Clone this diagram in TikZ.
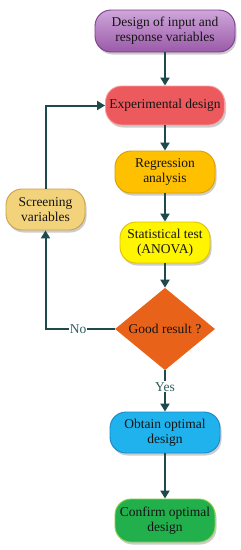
\documentclass[tikz,border=0pt]{standalone}
\usepackage{fontspec}
\setmainfont{Liberation Serif}
\usetikzlibrary{shapes.geometric,shadows,arrows.meta}
\definecolor{lnc}{HTML}{1E4A4C}
\definecolor{txc}{HTML}{151515}
\definecolor{lbc}{HTML}{2E5E5E}
\definecolor{purT}{HTML}{CFA6DB}
\definecolor{purB}{HTML}{9A5AA8}
\definecolor{purD}{HTML}{7A3E8A}
\definecolor{redF}{HTML}{EC5A5E}
\definecolor{redD}{HTML}{F5A0A0}
\definecolor{regF}{HTML}{FFC000}
\definecolor{regD}{HTML}{D9A000}
\definecolor{scrF}{HTML}{F2D27A}
\definecolor{scrD}{HTML}{C9A24A}
\definecolor{staF}{HTML}{FFF500}
\definecolor{staD}{HTML}{E0C000}
\definecolor{diaF}{HTML}{E8621A}
\definecolor{obtF}{HTML}{1FB2EC}
\definecolor{obtD}{HTML}{1A88C4}
\definecolor{conF}{HTML}{22B04C}
\definecolor{conD}{HTML}{8CCF4A}
\begin{document}
\begin{tikzpicture}[x=1pt,y=-1pt,
  font=\fontsize{13.5}{15}\selectfont,
  pill/.style={rectangle,rounded corners=16pt,align=center,text=txc,
    line width=0.9pt,inner sep=2pt,
    drop shadow={shadow xshift=1.5pt,shadow yshift=-2.5pt,opacity=0.4}},
  arr/.style={draw=lnc,line width=2pt,-{Triangle[length=8pt,width=9pt]}},
  lbl/.style={fill=white,text=lbc,inner sep=1pt}]
\useasboundingbox (0,0) rectangle (241,550);
\node[pill,draw=purD,top color=purT,bottom color=purB,minimum width=140pt,minimum height=42pt] (top) at (165,31) {Design of input and\\response variables};
\node[pill,draw=redD,fill=redF,minimum width=119pt,minimum height=39pt] (exp) at (165,105.5) {Experimental design};
\node[pill,draw=regD,fill=regF,minimum width=100pt,minimum height=42pt] (reg) at (165,172) {Regression\\analysis};
\node[pill,draw=scrD,fill=scrF,minimum width=79pt,minimum height=41pt] (scr) at (45.5,209.5) {Screening\\variables};
\node[pill,draw=staD,fill=staF,minimum width=90pt,minimum height=41pt] (sta) at (165,242.5) {Statistical test\\(ANOVA)};
\node[diamond,fill=diaF,text=txc,inner sep=0pt,minimum width=100pt,minimum height=70pt] (dia) at (165,329) {Good result ?};
\node[pill,draw=obtD,fill=obtF,minimum width=110pt,minimum height=41pt] (obt) at (165,432.5) {Obtain optimal\\design};
\node[pill,draw=conD,fill=conF,minimum width=100pt,minimum height=43pt] (con) at (165,520.5) {Confirm optimal\\design};
\draw[arr] (top) -- (exp);
\draw[arr] (exp) -- (reg);
\draw[arr] (reg) -- (sta);
\draw[arr] (sta) -- (dia);
\draw[arr] (dia.south) -- node[lbl,pos=0.4]{Yes} (obt.north);
\draw[arr] (obt) -- (con);
\coordinate (nc) at (dia.west -| scr.south);
\draw[arr] (dia.west) -- node[lbl,pos=0.53]{No} (nc) -- (scr.south);
\draw[arr] (scr.north) |- (exp.west);
\end{tikzpicture}
\end{document}
